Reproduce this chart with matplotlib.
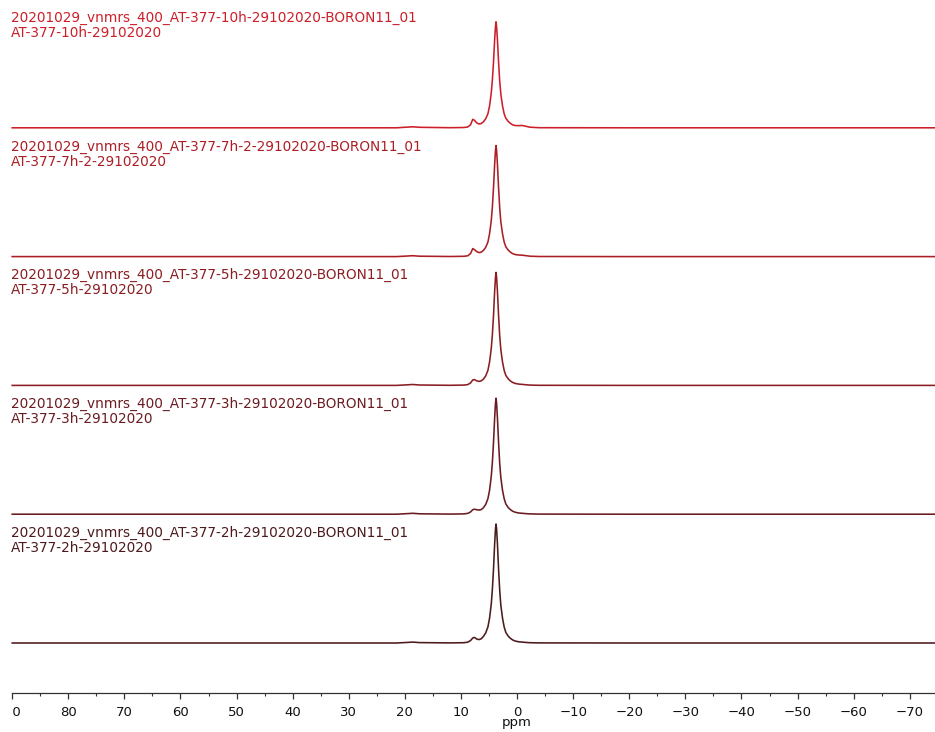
import matplotlib
matplotlib.use("Agg")
import matplotlib.pyplot as plt
from matplotlib.ticker import MultipleLocator, FuncFormatter
import matplotlib.transforms as mtransforms

# Chemical-shift sampling grid (ppm) shared by all 11B traces
ppm = [90, 40, 21.5, 19.8, 18.6, 17.4, 12, 9.5, 8.8, 8.3, 7.9, 7.6, 7.2, 6.8, 6.4,
       6.0, 5.6, 5.2, 4.9, 4.6, 4.4, 4.2, 4.0, 3.85, 3.75, 3.65, 3.5, 3.3,
       3.1, 2.9, 2.6, 2.3, 2.0, 1.6, 1.2, 0.8, 0.3, -0.3, -0.9, -1.5, -2.3,
       -4, -20, -75]

# Intensities (arbitrary units) for each reaction time
int_10h = [0, 0, 0, 0.6, 1.0, 0.5, 0.1, 0.3, 0.8, 3.0, 8.5, 7.5, 5.0, 3.8, 4.2,
           6.0, 9.0, 14, 22, 35, 48, 66, 88, 101, 106, 101, 88, 66,
           47, 34, 22, 14, 9.5, 6.5, 4.5, 3.0, 2.2, 2.2, 2.3, 1.6, 0.6,
           0.1, 0, 0]
int_7h = [0, 0, 0, 0.5, 0.9, 0.4, 0.1, 0.3, 0.8, 3.0, 8.0, 7.0, 5.0, 4.0, 4.4,
          6.2, 9.2, 14.5, 23, 36, 50, 69, 92, 106, 111, 106, 92, 69,
          49, 35, 23, 14.5, 9.8, 6.6, 4.5, 3.0, 2.0, 1.6, 1.4, 1.0, 0.4,
          0.1, 0, 0]
int_5h = [0, 0, 0, 0.5, 0.9, 0.4, 0.1, 0.3, 0.8, 2.4, 5.5, 5.8, 4.6, 4.0, 4.5,
          6.3, 9.4, 15, 23.5, 37, 51, 70, 94, 108, 113, 108, 94, 70,
          50, 36, 23.5, 15, 10, 6.7, 4.5, 3.0, 1.9, 1.3, 1.0, 0.7, 0.3,
          0.1, 0, 0]
int_3h = [0, 0, 0, 0.5, 0.9, 0.4, 0.1, 0.3, 0.8, 2.2, 4.5, 5.0, 4.5, 4.1, 4.6,
          6.5, 9.7, 15.5, 24, 38, 52, 72, 96, 111, 116, 111, 96, 72,
          51, 37, 24, 15.5, 10.2, 6.8, 4.6, 3.0, 1.9, 1.2, 0.9, 0.6, 0.3,
          0.1, 0, 0]
int_2h = [0, 0, 0, 0.5, 0.9, 0.4, 0.1, 0.3, 0.8, 2.4, 5.0, 5.6, 4.0, 3.4, 4.2,
          6.6, 10, 16, 25, 39, 54, 74, 99, 114, 119, 114, 99, 74,
          53, 38, 25, 16, 10.5, 7.0, 4.7, 3.1, 1.9, 1.2, 0.9, 0.6, 0.3,
          0.1, 0, 0]

# Trace titles (experiment name, sample name), bottom to top
titles = [
    ("20201029_vnmrs_400_AT-377-2h-29102020-BORON11_01", "AT-377-2h-29102020"),
    ("20201029_vnmrs_400_AT-377-3h-29102020-BORON11_01", "AT-377-3h-29102020"),
    ("20201029_vnmrs_400_AT-377-5h-29102020-BORON11_01", "AT-377-5h-29102020"),
    ("20201029_vnmrs_400_AT-377-7h-2-29102020-BORON11_01", "AT-377-7h-2-29102020"),
    ("20201029_vnmrs_400_AT-377-10h-29102020-BORON11_01", "AT-377-10h-29102020"),
]
spectra = [int_2h, int_3h, int_5h, int_7h, int_10h]
colors = ["#4c1a1c", "#6a1c20", "#8a1d22", "#ac1e26", "#cc1f2a"]

W, H = 935, 732
fig = plt.figure(figsize=(W / 100, H / 100), dpi=100)
ax_left, ax_bottom = 12.2, 39
ax = fig.add_axes([ax_left / W, ax_bottom / H, (W - ax_left) / W, (H - ax_bottom) / H])

ax.set_xlim(90, -74.5)
ax.set_ylim(0, 693)

stack_base = 50.0
stack_step = 128.8
title_x = 90.25
for i, (y, c, (t1, t2)) in enumerate(zip(spectra, colors, titles)):
    off = stack_base + stack_step * i
    ax.plot(ppm, [v + off for v in y], color=c, lw=1.15, solid_joinstyle="round",
            clip_on=False)
    ax.text(title_x, off + 110, t1, color=c, fontsize=9.8,
            ha="left", va="center", family="DejaVu Sans")
    ax.text(title_x, off + 95, t2, color=c, fontsize=9.8,
            ha="left", va="center", family="DejaVu Sans")

for side in ("top", "left", "right"):
    ax.spines[side].set_visible(False)
ax.spines["bottom"].set_linewidth(0.9)
ax.spines["bottom"].set_color("#333333")
ax.set_yticks([])

tick_len, tick_pad, tick_fs = 4, 5.5, 9.5
ax.xaxis.set_major_locator(MultipleLocator(10))
ax.xaxis.set_minor_locator(MultipleLocator(5))
ax.xaxis.set_major_formatter(
    FuncFormatter(lambda v, p: "" if v > 89 else f"{v:.0f}".replace("-", "\u2212")))
ax.tick_params(axis="x", which="major", direction="out", length=tick_len, width=0.9,
               color="#333333", labelsize=tick_fs, pad=tick_pad, labelcolor="#111111")
ax.tick_params(axis="x", which="minor", direction="out", length=2.5, width=0.8,
               color="#333333")

# Leftmost tick label, cut by the left edge of the plotting strip
trans = mtransforms.blended_transform_factory(ax.transData, ax.transAxes)
shift = mtransforms.ScaledTranslation(0, -(tick_len + tick_pad) / 72, fig.dpi_scale_trans)
lbl90 = ax.text(90, 0, "90", transform=trans + shift, ha="center", va="top",
                fontsize=tick_fs, color="#111111", clip_on=True)
lbl90.set_clip_box(mtransforms.TransformedBbox(
    mtransforms.Bbox([[ax_left + 0.8, 0], [W, H]]), mtransforms.IdentityTransform()))

ax.text(0, -33 / 693, "ppm", transform=trans, ha="center", va="baseline",
        fontsize=9.5, color="#111111")

fig.savefig("out.png", dpi=100)
